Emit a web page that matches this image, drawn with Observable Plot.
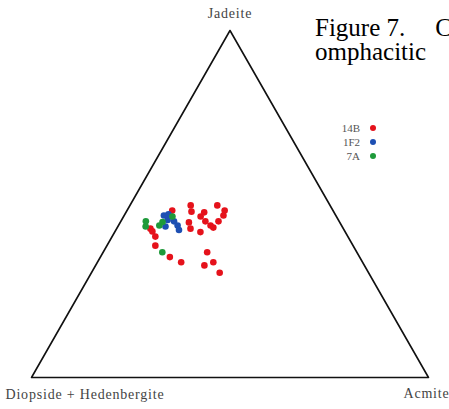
<!DOCTYPE html>
<html><head><meta charset="utf-8">
<script src="https://cdn.jsdelivr.net/npm/d3@7"></script>
<script src="https://cdn.jsdelivr.net/npm/@observablehq/plot@0.6"></script>
<style>
body{margin:0;background:#fff;width:449px;height:409px;overflow:hidden;position:relative}
#chart{position:absolute;left:0;top:0}
#chart svg g[aria-label="text"] text{letter-spacing:0.8px}
#title{position:absolute;left:315px;top:16px;font-family:"Liberation Serif";font-size:25px;line-height:24px;white-space:nowrap;color:#000}
#legend{position:absolute;left:0;top:0;font-family:"Liberation Serif";font-size:11px;color:#555}
.lg{position:absolute;display:flex;align-items:center;justify-content:flex-end;width:60px;height:14px}
.lg span.d{display:inline-block;width:6px;height:6px;border-radius:50%;margin-left:10px}
</style></head><body>
<div id="chart"></div>
<div id="title">Figure 7.<span style="margin-left:30px">Compositions of</span><br><span style="word-spacing:24px">omphacitic pyroxenes</span></div>
<div id="legend"></div>
<script>
// End-member labels (apex, bottom-left, bottom-right)
const endMembers = ["Jadeite", "Diopside + Hedenbergite", "Acmite"];
const seriesNames = ["14B", "1F2", "7A"];
const seriesColors = ["#e5121b", "#1d4fb3", "#1e9a3a"];

// Ternary compositions: Jd (jadeite %) and Ae (acmite %); remainder = Di+Hd
const jd14B = [48.1, 49.6, 47.8, 44.7, 42.9, 46.4, 47.6, 41.9, 45.0, 43.8, 49.6, 48.1, 45.0, 46.7, 43.2, 42.9, 42.1, 40.6, 38.0, 34.7, 33.2, 36.1, 32.3, 33.2, 30.2];
const ae14B = [11.4, 15.3, 16.4, 17.3, 18.6, 19.4, 19.7, 21.6, 21.3, 23.2, 22.0, 24.6, 24.6, 25.0, 24.2, 8.5, 9.4, 10.9, 12.2, 17.5, 21.1, 26.2, 27.4, 29.2, 32.3];
const jd1F2 = [46.7, 45.4, 43.5, 45.0, 43.8, 42.5, 47.0];
const ae1F2 = [10.0, 11.6, 12.0, 13.4, 14.9, 15.9, 11.0];
const jd7A = [45.0, 43.5, 43.8, 44.8, 46.4, 36.1];
const ae7A = [6.3, 7.0, 10.3, 10.6, 12.3, 14.9];

// Triangle vertices in ternary terms (Jd, Ae)
const vertexJd = [100, 0, 0];
const vertexAe = [0, 0, 100];

const toXY = (jd, ae) => ({x: ae + jd / 2, y: jd});

const points = [];
[[jd14B, ae14B], [jd1F2, ae1F2], [jd7A, ae7A]].forEach(([J, A], k) => {
  J.forEach((j, i) => points.push({series: seriesNames[k], ...toXY(j, A[i])}));
});
const verts = vertexJd.map((j, i) => ({label: endMembers[i], ...toXY(j, vertexAe[i])}));
const frame = [...verts, verts[0]];

const lbl = {x: "x", y: "y", text: "label", fontSize: 14, fill: "#444", fontFamily: "Liberation Serif"};
const chart = Plot.plot({
  width: 449, height: 409,
  marginLeft: 31, marginRight: 21, marginTop: 30, marginBottom: 32,
  x: {domain: [0, 100], axis: null},
  y: {domain: [0, 100], axis: null},
  color: {domain: seriesNames, range: seriesColors},
  marks: [
    Plot.line(frame, {x: "x", y: "y", stroke: "#111", strokeWidth: 1.6}),
    Plot.dot(points, {x: "x", y: "y", fill: "series", r: 3.3}),
    Plot.text([verts[0]], {...lbl, dx: 0, dy: -17}),
    Plot.text([verts[1]], {...lbl, dx: -26, dy: 17, textAnchor: "start"}),
    Plot.text([verts[2]], {...lbl, dx: -25, dy: 16, textAnchor: "start"})
  ]
});
document.getElementById("chart").appendChild(chart);

const lg = document.getElementById("legend");
seriesNames.forEach((s, i) => {
  const row = document.createElement("div");
  row.className = "lg";
  row.style.left = "316px";
  row.style.top = (121 + i * 14) + "px";
  row.innerHTML = `<span>${s}</span><span class="d" style="background:${seriesColors[i]}"></span>`;
  lg.appendChild(row);
});
</script>
</body></html>
